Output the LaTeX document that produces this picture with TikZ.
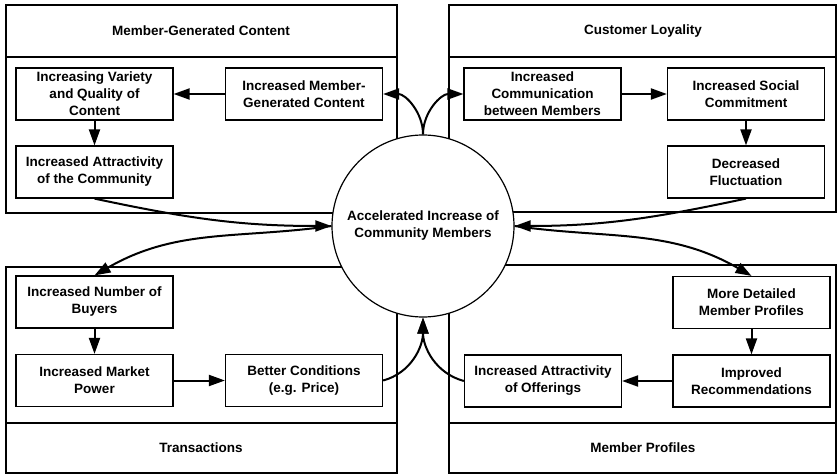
\documentclass[tikz,border=0pt]{standalone}
\usepackage{fontspec}
\setmainfont{Liberation Sans}
\usetikzlibrary{arrows.meta}
\tikzstyle{effect}=[draw,fill=white,line width=1.2pt,minimum width=157pt,minimum height=52pt,inner sep=0pt,align=center,font=\bfseries\fontsize{13.5}{17}\selectfont]
\tikzstyle{flow}=[line width=2pt,-{Triangle[length=16pt,width=11pt]}]
\tikzstyle{panel}=[line width=1.2pt]
\tikzstyle{heading}=[font=\bfseries\fontsize{13.5}{17}\selectfont]

\begin{document}
\begin{tikzpicture}[x=1pt,y=1pt]
	\useasboundingbox (0,0) rectangle (839,475);
	% the four panels
	\draw[panel] (6,262) rectangle (397,470) (6,418) -- (397,418);
	\draw[panel] (449,263) rectangle (836,470) (449,418) -- (836,418);
	\draw[panel] (6,2) rectangle (397,208) (6,52) -- (397,52);
	\draw[panel] (449,2) rectangle (836,210) (449,52) -- (836,52);
	\node[heading] (hcontent) at (201,444) {Member-Generated Content};
	\node[heading] (hloyal) at (643,444) {Customer Loyality};
	\node[heading] (htrans) at (201,27) {Transactions};
	\node[heading] (hprofile) at (643,27) {Member Profiles};
	% centre
	\node[draw,circle,fill=white,line width=1.2pt,minimum size=182pt,inner sep=0pt,align=center,font=\bfseries\fontsize{13.5}{17}\selectfont] (acc) at (423,249) {Accelerated Increase of\\Community Members};
	% member-generated content
	\node[effect] (var) at (94.5,381) {Increasing Variety\\and Quality of\\Content};
	\node[effect] (mgc) at (304,381) {Increased Member-\\Generated Content};
	\node[effect] (attr) at (94.5,303) {Increased Attractivity\\of the Community};
	% customer loyality
	\node[effect] (comm) at (542.5,381) {Increased\\Communication\\between Members};
	\node[effect] (soc) at (746,381) {Increased Social\\Commitment};
	\node[effect] (fluc) at (746,303) {Decreased\\Fluctuation};
	% transactions
	\node[effect] (buy) at (94.5,173) {Increased Number of\\Buyers};
	\node[effect] (mkt) at (94.5,94.5) {Increased Market\\Power};
	\node[effect] (cond) at (304,94.5) {Better Conditions\\(e.g. Price)};
	% member profiles
	\node[effect] (prof) at (751.5,172.5) {More Detailed\\Member Profiles};
	\node[effect] (rec) at (751.5,94) {Improved\\Recommendations};
	\node[effect] (offer) at (543,94) {Increased Attractivity\\of Offerings};
	% arrows
	\draw[flow] (acc.north) to[out=90,in=0] (mgc.east);
	\draw[flow] (acc.north) to[out=90,in=180] (comm.west);
	\draw[flow] (mgc) -- (var);
	\draw[flow] (var) -- (attr);
	\draw[flow] (attr.south) to[out=-12,in=180] (acc.west);
	\draw[flow] (acc.west) to[out=188,in=30] (buy.north);
	\draw[flow] (comm) -- (soc);
	\draw[flow] (soc) -- (fluc);
	\draw[flow] (fluc.south) to[out=192,in=0] (acc.east);
	\draw[flow] (acc.east) to[out=-8,in=150] (prof.north);
	\draw[flow] (buy) -- (mkt);
	\draw[flow] (mkt) -- (cond);
	\draw[flow] (cond.east) to[out=15,in=-90] (acc.south);
	\draw[flow] (prof) -- (rec);
	\draw[flow] (rec) -- (offer);
	\draw[flow] (offer.west) to[out=165,in=-90] (acc.south);
\end{tikzpicture}
\end{document}
